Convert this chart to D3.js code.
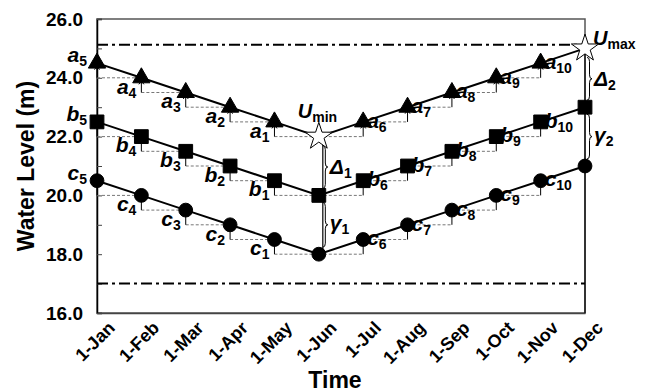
<!DOCTYPE html>
<meta charset="utf-8">
<script src="https://d3js.org/d3.v7.min.js"></script>
<style>
  body { margin: 0; background: #fff; }
  text { font-family: "Liberation Sans", Arial, sans-serif; font-weight: bold; }
</style>
<div id="chart"></div>
<script>

// data
var months = ["1-Jan", "1-Feb", "1-Mar", "1-Apr", "1-May", "1-Jun",
              "1-Jul", "1-Aug", "1-Sep", "1-Oct", "1-Nov", "1-Dec"];
var seriesA = [24.5, 24.0, 23.5, 23.0, 22.5, 22.0, 22.5, 23.0, 23.5, 24.0, 24.5, 25.0];
var seriesB = [22.5, 22.0, 21.5, 21.0, 20.5, 20.0, 20.5, 21.0, 21.5, 22.0, 22.5, 23.0];
var seriesC = [20.5, 20.0, 19.5, 19.0, 18.5, 18.0, 18.5, 19.0, 19.5, 20.0, 20.5, 21.0];
var limits = [25.12, 17.0];
var yTicks = [16, 17, 18, 19, 20, 21, 22, 23, 24, 25, 26];

var W = 646, H = 392;
var margin = {top: 19, right: 61, bottom: 79, left: 97};

var svg = d3.select("#chart").append("svg")
    .attr("width", W).attr("height", H);

var x = d3.scalePoint().domain(months).range([margin.left, W - margin.right]);
var y = d3.scaleLinear().domain([16, 26]).range([H - margin.bottom, margin.top]);

// frame
svg.append("rect")
  .attr("x", x.range()[0]).attr("y", y(26))
  .attr("width", x.range()[1] - x.range()[0]).attr("height", y(16) - y(26))
  .attr("fill", "none").attr("stroke", "#555").attr("stroke-width", 1.5);

// y axis, ticks point inward
var yAxis = svg.append("g")
  .attr("transform", "translate(" + margin.left + ",0)")
  .call(d3.axisLeft(y).tickValues(yTicks).tickSize(-5).tickPadding(14)
    .tickFormat(function(d) { return d % 2 === 0 ? d.toFixed(1) : ""; }));
yAxis.select(".domain").attr("stroke", "#000").attr("stroke-width", 1.5);
yAxis.selectAll("line").attr("stroke", "#444");
yAxis.selectAll("text").attr("font-size", 19).attr("fill", "#000");

// x axis line without ticks, slanted labels drawn separately
var xAxis = svg.append("g")
  .attr("transform", "translate(0," + y(16) + ")")
  .call(d3.axisBottom(x).tickSize(0).tickFormat(""));
xAxis.select(".domain").attr("stroke", "#444").attr("stroke-width", 1.5);
var xLab = svg.append("g").selectAll("g")
  .data(months)
  .enter().append("g")
    .attr("transform", function(d) { return "translate(" + (x(d) + 19) + "," + (y(16) + 16) + ")"; })
  .append("g")
    .attr("transform", "rotate(-45)");
xLab.append("text")
    .attr("text-anchor", "end")
    .attr("font-size", 18)
    .text(function(d) { return d; });

// axis titles
svg.append("text")
  .attr("transform", "translate(34," + ((y(16) + y(26)) / 2) + ") rotate(-90)")
  .attr("text-anchor", "middle").attr("font-size", 23)
  .text("Water Level (m)");
svg.append("text")
  .attr("x", 335).attr("y", 388)
  .attr("text-anchor", "middle").attr("font-size", 23)
  .text("Time");

// dash-dot limit lines
limits.forEach(function(v) {
  svg.append("line")
    .attr("x1", x.range()[0]).attr("x2", x.range()[1])
    .attr("y1", y(v)).attr("y2", y(v))
    .attr("stroke", "#000").attr("stroke-width", 2)
    .attr("stroke-dasharray", "11,4,3,4");
});

var guides = svg.append("g");
var labels = svg.append("g");

function label(px, py, main, sub, anchor, big) {
  var t = labels.append("text")
    .attr("x", px).attr("y", py)
    .attr("text-anchor", anchor)
    .attr("font-size", big || 21);
  t.append("tspan").attr("font-style", "italic").text(main);
  t.append("tspan").attr("font-size", 14).attr("dy", 4).text(sub);
}

function arrow(px, y1, y2) {
  guides.append("line")
    .attr("x1", px).attr("x2", px).attr("y1", y1).attr("y2", y2)
    .attr("stroke", "#000").attr("stroke-width", 1);
  guides.append("path")
    .attr("d", "M" + (px - 2.5) + "," + (y2 + 3.5) + "L" + px + "," + y2 + "L" + (px + 2.5) + "," + (y2 + 3.5))
    .attr("fill", "none").attr("stroke", "#000").attr("stroke-width", 1);
}

function dashed(x1, x2, yy) {
  guides.append("line")
    .attr("x1", x1).attr("x2", x2).attr("y1", yy).attr("y2", yy)
    .attr("stroke", "#777").attr("stroke-width", 1)
    .attr("stroke-dasharray", "3,2");
}

// step guides + labels for each series
[[seriesA, "a"], [seriesB, "b"], [seriesC, "c"]].forEach(function(s) {
  var vals = s[0], letter = s[1];
  vals.forEach(function(v, i) {
    var px = x(months[i]);
    if (i <= 4) {
      var lv = vals[i + 1];
      dashed(px, x(months[i + 1]), y(lv));
      arrow(px, y(lv), y(v) + 3);
      if (i === 0) label(px - 10, y(v) - 1, letter, String(5 - i), "end");
      else label(px - 5, y(lv) + 1, letter, String(5 - i), "end");
    } else if (i >= 6 && i <= 10) {
      var pv = vals[i - 1];
      dashed(x(months[i - 1]), px, y(pv));
      arrow(px, y(pv), y(v) + 3);
      label(px + 4, y(pv) - 9, letter, String(i), "start");
    }
  });
});

// brace pointing right
function brace(bx, y1, y2, w) {
  var ym = (y1 + y2) / 2, h = w / 2;
  var d = "M" + bx + "," + y1 +
    "Q" + (bx + h) + "," + y1 + " " + (bx + h) + "," + (y1 + 4) +
    "L" + (bx + h) + "," + (ym - 4) +
    "Q" + (bx + h) + "," + ym + " " + (bx + w) + "," + ym +
    "Q" + (bx + h) + "," + ym + " " + (bx + h) + "," + (ym + 4) +
    "L" + (bx + h) + "," + (y2 - 4) +
    "Q" + (bx + h) + "," + y2 + " " + bx + "," + y2;
  guides.append("path").attr("d", d)
    .attr("fill", "none").attr("stroke", "#000").attr("stroke-width", 1);
}

// vertical gap annotations at Jun and Dec
var iJun = 5, iDec = 11;
var xj = x(months[iJun]) + 4;
guides.append("line")
  .attr("x1", xj).attr("x2", xj)
  .attr("y1", y(seriesA[iJun])).attr("y2", y(seriesC[iJun]))
  .attr("stroke", "#000").attr("stroke-width", 1.2);
brace(xj, y(seriesA[iJun]) + 9, y(seriesB[iJun]) - 7, 5);
brace(xj, y(seriesB[iJun]) + 7, y(seriesC[iJun]) - 7, 5);
label(xj + 7, (y(seriesA[iJun]) + y(seriesB[iJun])) / 2 + 8, "\u0394", "1", "start");
label(xj + 7, (y(seriesB[iJun]) + y(seriesC[iJun])) / 2 + 5, "\u03b3", "1", "start");

var xd = x(months[iDec]);
guides.append("line")
  .attr("x1", xd).attr("x2", xd)
  .attr("y1", y(seriesA[iDec])).attr("y2", y(16))
  .attr("stroke", "#000").attr("stroke-width", 1.2);
brace(xd + 2, y(seriesA[iDec]) + 9, y(seriesB[iDec]) - 7, 5);
brace(xd + 2, y(seriesB[iDec]) + 7, y(seriesC[iDec]) - 7, 5);
label(xd + 9, (y(seriesA[iDec]) + y(seriesB[iDec])) / 2 + 8, "\u0394", "2", "start");
label(xd + 9, (y(seriesB[iDec]) + y(seriesC[iDec])) / 2 + 5, "\u03b3", "2", "start");

// series lines
var line = d3.line()
  .x(function(d, i) { return x(months[i]); })
  .y(function(d) { return y(d); });
[seriesA, seriesB, seriesC].forEach(function(vals) {
  svg.append("path").datum(vals).attr("d", line)
    .attr("fill", "none").attr("stroke", "#000").attr("stroke-width", 2);
});

// markers
var sym = {
  a: d3.symbol().type(d3.symbolTriangle).size(130),
  b: d3.symbol().type(d3.symbolSquare).size(190),
  c: d3.symbol().type(d3.symbolCircle).size(150),
  star: d3.symbol().type(d3.symbolStar).size(230)
};
[[seriesA, "a"], [seriesB, "b"], [seriesC, "c"]].forEach(function(s) {
  svg.append("g").selectAll("path")
    .data(s[0])
    .enter().append("path")
      .attr("transform", function(d, i) { return "translate(" + x(months[i]) + "," + y(d) + ")"; })
      .attr("d", function(d, i) {
        if (s[1] === "a" && (i === iJun || i === iDec)) return sym.star();
        return sym[s[1]]();
      })
      .attr("fill", function(d, i) {
        return (s[1] === "a" && (i === iJun || i === iDec)) ? "#fff" : "#000";
      })
      .attr("stroke", "#000").attr("stroke-width", 1);
});

// Umin / Umax
label(x(months[iJun]) - 21, y(seriesA[iJun]) - 19, "U", "min", "start", 20);
label(x(months[iDec]) + 8, y(seriesA[iDec]) - 3, "U", "max", "start", 20);

</script>
